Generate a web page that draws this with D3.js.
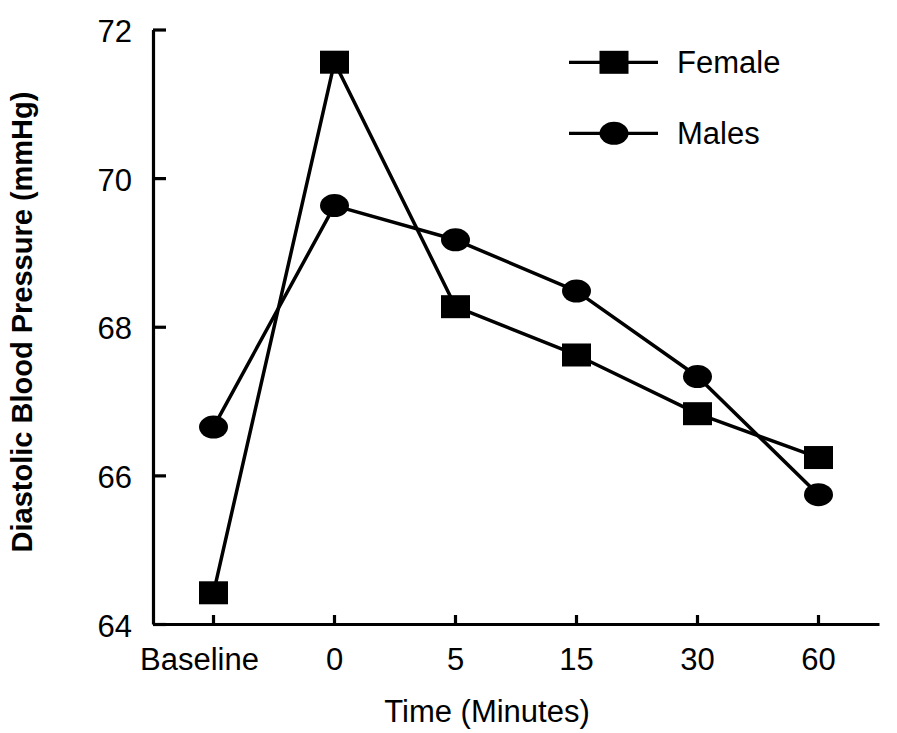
<!DOCTYPE html>
<html>
<head>
<meta charset="utf-8">
<script src="https://cdn.jsdelivr.net/npm/d3@7"></script>
<style>
  html, body { margin: 0; padding: 0; background: #fff; }
  svg { display: block; }
  text { font-family: "Liberation Sans", Arial, Helvetica, sans-serif; fill: #000; }
</style>
</head>
<body>
<svg id="chart" width="897" height="733"></svg>
<script>
const categories = ["Baseline", "0", "5", "15", "30", "60"];
const femaleValues = [64.42, 71.56, 68.27, 67.62, 66.83, 66.24];
const maleValues = [66.65, 69.63, 69.17, 68.48, 67.33, 65.74];
const yTicks = [64, 66, 68, 70, 72];
const seriesNames = ["Female", "Males"];
const xTitle = "Time (Minutes)";
const yTitle = "Diastolic Blood Pressure (mmHg)";

const svg = d3.select("#chart");
const plotLeft = 153, plotRight = 879, plotTop = 29.5, plotBottom = 624;

const x = d3.scaleBand().domain(categories).range([plotLeft, plotRight]);
const xc = c => x(c) + x.bandwidth() / 2;
const y = d3.scaleLinear().domain([64, 72]).range([plotBottom, plotTop]);

// Y axis
const yAxis = svg.append("g")
  .attr("transform", `translate(${plotLeft},0)`)
  .call(d3.axisLeft(y).tickValues(yTicks).tickFormat(d3.format("d"))
    .tickSizeInner(-13).tickSizeOuter(0).tickPadding(21));
yAxis.select(".domain").attr("stroke", "#000").attr("stroke-width", 3.2);
yAxis.selectAll(".tick line").attr("stroke", "#000").attr("stroke-width", 3.2);
yAxis.selectAll(".tick text").attr("font-size", 31).attr("dy", "0.39em")
  .attr("font-family", "Liberation Sans, Arial, sans-serif");

// X axis
const xAxis = svg.append("g")
  .attr("transform", `translate(0,${plotBottom})`)
  .call(d3.axisBottom(x).tickSizeInner(-9).tickSizeOuter(0).tickPadding(24));
xAxis.select(".domain").attr("stroke", "#000").attr("stroke-width", 3.2);
xAxis.selectAll(".tick line").attr("stroke", "#000").attr("stroke-width", 3.2);
xAxis.selectAll(".tick text").attr("font-size", 31).attr("dy", "0.71em")
  .attr("font-family", "Liberation Sans, Arial, sans-serif")
  .attr("dx", d => d === "Baseline" ? -14 : 0);

// Titles
svg.append("text").attr("x", (plotLeft + plotRight) / 2 - 29).attr("y", 722)
  .attr("text-anchor", "middle").attr("font-size", 31).text(xTitle);
svg.append("text")
  .attr("transform", `translate(32,${(92 + 552) / 2}) rotate(-90)`)
  .attr("text-anchor", "middle").attr("font-size", 29).attr("font-weight", "bold")
  .text(yTitle);

const line = d3.line().x((d, i) => xc(categories[i])).y(d => y(d));

function drawSquare(g, cx, cy) {
  g.append("rect").attr("x", cx - 14.5).attr("y", cy - 11.5)
    .attr("width", 29).attr("height", 23).attr("fill", "#000");
}
function drawCircle(g, cx, cy) {
  g.append("ellipse").attr("cx", cx).attr("cy", cy)
    .attr("rx", 14.5).attr("ry", 11.5).attr("fill", "#000");
}

// Lines
[femaleValues, maleValues].forEach(vals => {
  svg.append("path").datum(vals).attr("d", line)
    .attr("fill", "none").attr("stroke", "#000").attr("stroke-width", 3.5)
    .attr("stroke-linejoin", "round");
});
const markers = svg.append("g");
femaleValues.forEach((v, i) => drawSquare(markers, xc(categories[i]), y(v)));
maleValues.forEach((v, i) => drawCircle(markers, xc(categories[i]), y(v)));

// Legend
const legend = svg.append("g");
const legendRows = [62.3, 133.3];
seriesNames.forEach((name, i) => {
  const ly = legendRows[i];
  legend.append("line").attr("x1", 569).attr("x2", 658).attr("y1", ly).attr("y2", ly)
    .attr("stroke", "#000").attr("stroke-width", 3.2);
  if (i === 0) drawSquare(legend, 614, ly); else drawCircle(legend, 614, ly);
  legend.append("text").attr("x", 677).attr("y", ly + 10.5)
    .attr("font-size", 31).text(name);
});
</script>
</body>
</html>
